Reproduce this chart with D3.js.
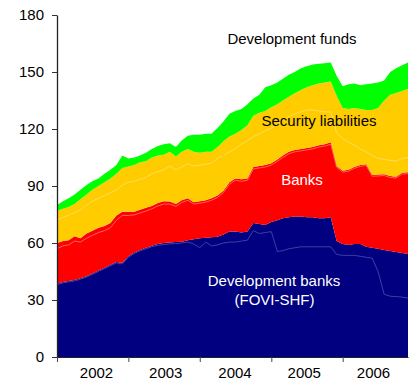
<!DOCTYPE html>
<html><head><meta charset="utf-8">
<script src="https://cdn.jsdelivr.net/npm/d3@7"></script>
<style>
body{margin:0;background:#fff}
svg{display:block}
text{font-family:"Liberation Sans",Arial,sans-serif}
</style>
</head><body><svg id="c" width="409" height="385"></svg>
<script>
// ---- data (billions of pesos, monthly Jan 2002 - Dec 2006) ----
const years = [2002, 2003, 2004, 2005, 2006];
const yTicks = [0, 30, 60, 90, 120, 150, 180];
const seriesNames = ["Development banks", "Banks", "Security liabilities", "Development funds"];

const devBanks = [38.5,39.5,40,40.5,41.5,42.5,44,45.5,47,48.5,50,49.5,
  53,55,56.3,57.5,58.5,59.5,60,60.3,60.5,60.7,61.5,62,
  62.5,62.7,63,63.3,64.5,66,66,65.5,66,70.5,70,69.5,
  71,72,73,73.5,74,74,73.5,73.5,73,73,73.5,61,
  59.5,59,59.5,59.5,58,57.5,57,56.3,55.8,55.3,54.8,54.2];
const banks = [21.5,21.5,21.5,23,21,22.5,22.5,22.5,22,22,24.5,27,
  23.5,21.5,21.2,21,21,21.5,22,21.5,20,21.8,22,19.5,
  19.5,19.8,20.5,21.7,23,26,28,28,28,29.5,30.5,31.5,
  31,32,33,34.5,35,35.5,36.5,37,38.5,39,39.5,39.5,
  38.5,39.5,40.5,41.5,43.5,38.3,39,39.9,39.4,39.6,42.2,43];
const securities = [17,17,17.5,17,20.5,20.5,21.5,22,23,23.5,22,23,
  23.7,24.5,25,24.5,25.5,25,24.5,26.2,25,25.5,26,26.5,
  25.5,25.5,24.5,25.5,26,24,23.5,26,28,27,28,28.5,
  29.5,29,29,29,29.8,31,32,32.5,32.5,32.5,32,37,
  33,32,31,29.5,28.5,34.2,35,38.8,42.8,44.1,43,43.8];
const devFunds = [3,4,4.5,5,5,5,4.5,4,4.5,4.5,4.5,6.5,
  4.3,4,3.5,4.5,4.5,5,5.5,4.5,5,6,7,9,
  9.5,9.5,9.5,10,10.5,12,12,11,11,9,9.5,12.5,
  11.5,11.5,11.5,11.5,11.2,11.5,11,11,10.3,10.1,10,10.5,
  11.5,13,13,12.5,13.5,14,13.5,10.5,12,13,13.5,14];

// thin sub-component lines inside each band (cumulative level)
const devBanksSub = [38,39,39.5,40,41,42,43.5,45,46.5,48,49.5,49,
  52.5,54.5,55.8,57,58,58.8,59.2,59.5,59.7,60,60.5,59.5,
  57.5,60.5,58.5,59,60,60.5,60.5,61,61.5,66.5,65,65.5,
  66,55.5,56,57,57.5,58,58,58,58,58,58,54,
  53.5,53.5,53.5,53,52.5,52,45,33,32,31.8,31.5,31];
const banksSub = [57,58.5,59,61,60.5,62.5,64,65.5,66.5,68,72,74.5,
  74.5,74.8,75.8,76.8,78,79.5,80.5,80.5,79.3,81.3,82.5,80.5,
  81,81.5,82.5,84,86.5,91,93,92.5,93,99,99.5,100,
  101,103,105,107,108,108.5,109,109.5,110.5,111,112,99.8,
  97.3,97.8,99.3,100.3,100.8,95.1,95.3,95.5,94.5,94.2,96.3,96.5];
const securitiesSub = [72,73.5,74.5,76,77.5,80,82,83.5,85,86.5,88,90.5,
  92,92.5,93.5,94.5,96.5,97.5,98.5,100.5,98.5,100,101.8,100.5,
  101,101.5,102,104.5,106,108,109.5,112,114,116,117.5,119,
  120.5,122.5,124.5,126.5,128,129,130,130,129.5,129,129,118,
  115,113,111.5,109.5,108,106,104.5,104,103.5,103,104.5,105];

// ---- chart ----
const svg = d3.select("#c");
const dates = d3.timeMonth.range(new Date(2002, 0, 1), new Date(2007, 0, 1));
const keys = ["devBanks", "banks", "securities", "devFunds"];
const rows = dates.map((d, i) => ({date: d, devBanks: devBanks[i], banks: banks[i], securities: securities[i], devFunds: devFunds[i]}));
const colors = {devBanks: "#000080", banks: "#ff0000", securities: "#ffcc00", devFunds: "#00ff00"};

const x = d3.scaleTime().domain([dates[0], dates[dates.length - 1]]).range([57, 408]);
const y = d3.scaleLinear().domain([0, 180]).range([357, 15]);

const stacked = d3.stack().keys(keys)(rows);
const area = d3.area().x(d => x(d.data.date)).y0(d => y(d[0])).y1(d => y(d[1]));
svg.append("g").selectAll("path").data(stacked).join("path")
  .attr("fill", d => colors[d.key]).attr("d", area);

const subLines = [
  {vals: devBanksSub, color: "#4646a6"},
  {vals: banksSub, color: "#ff6a6a"},
  {vals: securitiesSub, color: "#ffdd66"}
];
const line = d3.line().x((d, i) => x(dates[i])).y(d => y(d));
svg.append("g").selectAll("path").data(subLines).join("path")
  .attr("fill", "none").attr("stroke", d => d.color).attr("stroke-width", 0.9)
  .attr("d", d => line(d.vals));

// axes
const yAxis = svg.append("g").attr("transform", "translate(57,0)")
  .call(d3.axisLeft(y).tickValues(yTicks).tickSize(5).tickSizeOuter(0).tickPadding(8));
yAxis.selectAll("text").attr("font-size", 15).attr("fill", "#000")
  .style("font-family", '"Liberation Sans",Arial,sans-serif');
yAxis.select(".domain").attr("stroke", "#222").attr("stroke-width", 1.3);
yAxis.selectAll(".tick line").attr("stroke", "#333");

const xAxis = svg.append("g").attr("transform", "translate(0,357)")
  .call(d3.axisBottom(x).tickValues(years.map(yr => new Date(yr, 0, 1))).tickSize(5).tickSizeOuter(0).tickFormat(""));
xAxis.select(".domain").attr("stroke", "#222").attr("stroke-width", 1);
xAxis.selectAll(".tick line").attr("stroke", "#444");

const yearPos = d3.scalePoint().domain(years).range([96.5, 373.5]);
svg.append("g").selectAll("text").data(years).join("text")
  .attr("x", d => yearPos(d)).attr("y", 377.5)
  .attr("text-anchor", "middle").attr("font-size", 15).attr("fill", "#000")
  .text(d => d);

// series labels
const lab = svg.append("g").attr("font-size", 15).attr("text-anchor", "middle");
lab.append("text").attr("x", 292).attr("y", 44).attr("fill", "#000").text(seriesNames[3]);
lab.append("text").attr("x", 319).attr("y", 126).attr("fill", "#000").text(seriesNames[2]);
lab.append("text").attr("x", 302).attr("y", 185).attr("fill", "#fff").text(seriesNames[1]);
lab.append("text").attr("x", 274).attr("y", 286).attr("fill", "#fff").text(seriesNames[0]);
lab.append("text").attr("x", 274.5).attr("y", 305).attr("fill", "#fff").text("(FOVI-SHF)");
</script>
</body></html>
